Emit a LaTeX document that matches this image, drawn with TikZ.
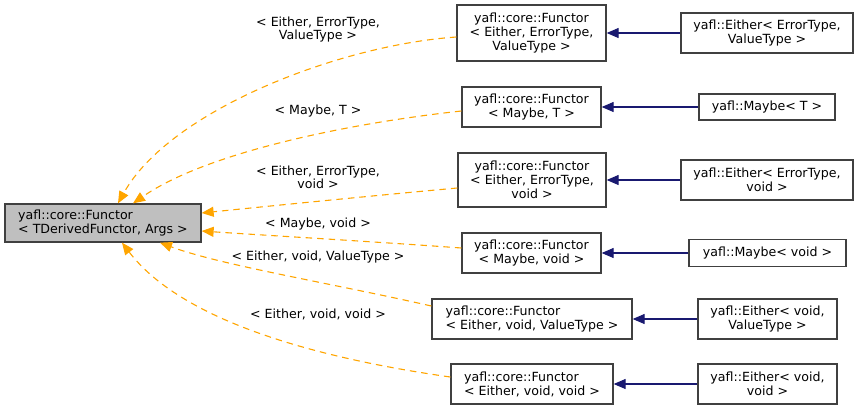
\documentclass[tikz,border=0pt]{standalone}
\usepackage{fontspec}
\setmainfont{DejaVu Sans}
\usetikzlibrary{arrows.meta}
\definecolor{edgeorange}{HTML}{FFA500}
\definecolor{edgenavy}{HTML}{191970}
\definecolor{basegray}{HTML}{BFBFBF}
\definecolor{boxline}{HTML}{404040}
\begin{document}
\begin{tikzpicture}[x=1pt,y=-1pt,
  every node/.style={font=\fontsize{12.6}{14}\selectfont, inner sep=0pt},
  cls/.style={draw=boxline, line width=1.3pt, fill=white, align=center},
  clsl/.style={cls, align=left},
  lbl/.style={align=center, font=\fontsize{12.6}{13}\selectfont},
  tmpl/.style={draw=edgeorange, line width=1.1pt, dash pattern=on 6.5pt off 5pt,
    -{Triangle[length=12pt,width=10pt,fill=edgeorange]}},
  inh/.style={draw=edgenavy, line width=1.1pt,
    -{Triangle[length=12pt,width=10pt,fill=edgenavy]}}
]
\useasboundingbox (0,0) rectangle (859,410);

% base class
\node[clsl, fill=basegray, minimum width=196pt, minimum height=38pt] (base) at (103,223)
  {yafl::core::Functor\\< TDerivedFunctor, Args >};

% middle column
\node[cls, minimum width=149pt, minimum height=56pt] (m1) at (531.5,33)
  {yafl::core::Functor\\< Either, ErrorType,\\ValueType >};
\node[cls, minimum width=139pt, minimum height=40pt] (m2) at (531.5,107)
  {yafl::core::Functor\\< Maybe, T >};
\node[cls, minimum width=148pt, minimum height=54pt] (m3) at (532,180)
  {yafl::core::Functor\\< Either, ErrorType,\\void >};
\node[cls, minimum width=139pt, minimum height=40pt] (m4) at (531.5,253)
  {yafl::core::Functor\\< Maybe, void >};
\node[clsl, minimum width=200pt, minimum height=40pt] (m5) at (532,319)
  {yafl::core::Functor\\< Either, void, ValueType >};
\node[clsl, minimum width=162pt, minimum height=40pt] (m6) at (532,384)
  {yafl::core::Functor\\< Either, void, void >};

% right column
\node[cls, minimum width=172pt, minimum height=40pt] (r1) at (767,33)
  {yafl::Either< ErrorType,\\ValueType >};
\node[cls, minimum width=136pt, minimum height=26pt] (r2) at (767,107)
  {yafl::Maybe< T >};
\node[cls, minimum width=172pt, minimum height=40pt] (r3) at (767,180)
  {yafl::Either< ErrorType,\\void >};
\node[cls, minimum width=157pt, minimum height=27pt] (r4) at (767.5,253)
  {yafl::Maybe< void >};
\node[cls, minimum width=139pt, minimum height=40pt] (r5) at (767.5,319)
  {yafl::Either< void,\\ValueType >};
\node[cls, minimum width=139pt, minimum height=40pt] (r6) at (767.5,384)
  {yafl::Either< void,\\void >};

% labels
\node[lbl] (l1) at (318,29.5) {< Either, ErrorType,\\ValueType >};
\node[lbl] (l2) at (318,111) {< Maybe, T >};
\node[lbl] (l3) at (318,177.5) {< Either, ErrorType,\\void >};
\node[lbl] (l4) at (318,224) {< Maybe, void >};
\node[lbl] (l5) at (318,257) {< Either, void, ValueType >};
\node[lbl] (l6) at (318,314) {< Either, void, void >};

% inheritance edges
\draw[inh] (r1.west) -- (m1.east |- r1.west);
\draw[inh] (r2.west) -- (m2.east |- r2.west);
\draw[inh] (r3.west) -- (m3.east |- r3.west);
\draw[inh] (r4.west) -- (m4.east |- r4.west);
\draw[inh] (r5.west) -- (m5.east |- r5.west);
\draw[inh] (r6.west) -- (m6.east |- r6.west);

% template instantiation edges
\draw[tmpl] ([yshift=-4pt]m1.west) .. controls (340,45) and (170,110) .. ([xshift=15pt]base.north);
\draw[tmpl] ([yshift=-4pt]m2.west) .. controls (360,122) and (210,150) .. ([xshift=30pt]base.north);
\draw[tmpl] ([yshift=-8pt]m3.west) .. controls (380,195) and (260,207) .. ([yshift=10pt]base.east);
\draw[tmpl] ([yshift=5pt]m4.west) .. controls (380,242) and (260,235) .. ([yshift=-8pt]base.east);
\draw[tmpl] ([yshift=13pt]m5.west) .. controls (330,283) and (220,265) .. ([xshift=57pt]base.south);
\draw[tmpl] ([yshift=7pt]m6.west) .. controls (330,360) and (185,325) .. ([xshift=19pt]base.south);
\end{tikzpicture}
\end{document}
